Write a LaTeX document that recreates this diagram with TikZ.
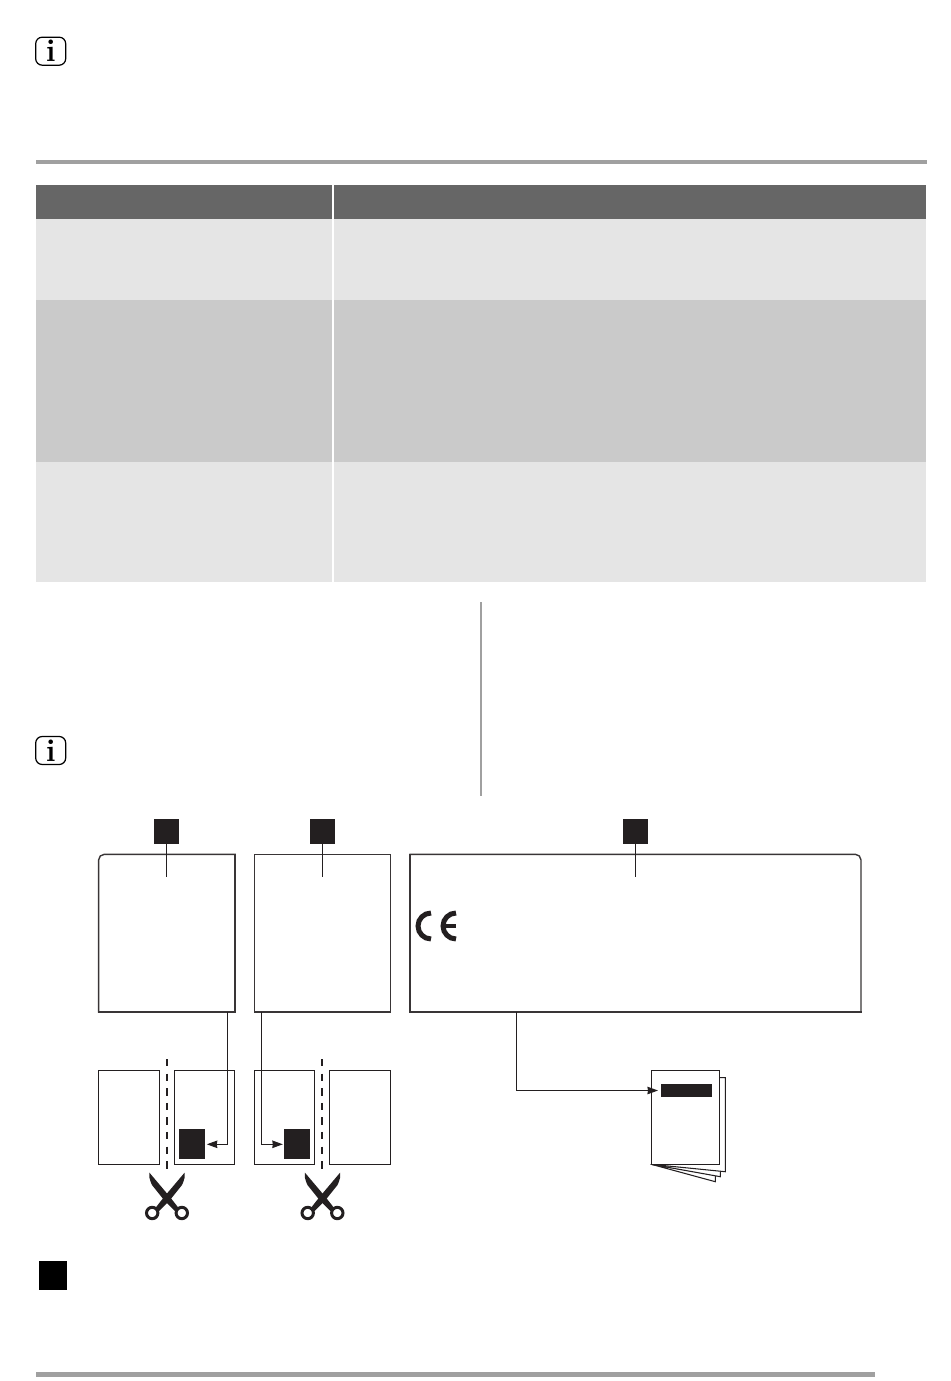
\documentclass[tikz,border=0pt]{standalone}
\usetikzlibrary{arrows.meta}
\definecolor{inkblack}{HTML}{231F20}
\definecolor{rulegray}{HTML}{A0A0A0}
\definecolor{headgray}{HTML}{666666}
\definecolor{lightrow}{HTML}{E5E5E5}
\definecolor{darkrow}{HTML}{CACACA}
\tikzset{
  cell/.style={inner sep=0,outer sep=0,anchor=north west},
  tag/.style={fill=inkblack,inner sep=0,outer sep=0,minimum size=0.5cm},
  infobox/.style={draw=black,line width=0.7pt,rounded corners=0.13cm,inner sep=0,minimum width=0.6cm,minimum height=0.56cm,font=\fontsize{18}{18}\selectfont\bfseries},
  plate/.style={inner sep=0,outer sep=0,minimum height=3.154cm},
  platebox/.style={draw=inkblack!90,line width=0.8pt,line cap=rect},
  piece/.style={draw=inkblack,line width=0.6pt,fill=white,inner sep=0,outer sep=0,minimum height=1.88cm},
  lead/.style={draw=inkblack,line width=0.6pt,>={Stealth[length=0.21cm,width=0.15cm,inset=0.3pt]}},
  cutline/.style={draw=inkblack,line width=1.1pt,dash pattern=on 0.148cm off 0.144cm},
  sheet/.style={draw=inkblack,line width=0.6pt,fill=white},
  blade/.pic={
    \fill[inkblack] (-17.7,-25.5) -- (-17.5,-20) .. controls (-16.8,-17) and (-16,-15) .. (-15,-13)
      -- (-3,2) -- (9,14) -- (12,10.5) -- (3,-1) -- cycle;
    \draw[inkblack,line width=0.06cm] (14.8,15) circle (0.114cm);
  },
  scissors/.pic={
    \pic {blade};
    \pic[xscale=-1] {blade};
  }
}
\begin{document}
\begin{tikzpicture}[x=0.02cm,y=-0.02cm]
  \useasboundingbox (0,0) rectangle (950,1381);
  % rules
  \fill[rulegray] (36,160) rectangle (927,164.5);
  \fill[rulegray] (36,1372) rectangle (875,1376.5);
  \draw[rulegray,line width=0.8pt] (481,602) -- (481,796);
  % table
  \node[cell,fill=headgray,minimum width=5.926cm,minimum height=0.68cm] (headA) at (36,185) {};
  \node[cell,fill=headgray,minimum width=11.834cm,minimum height=0.68cm] (headB) at (334.3,185) {};
  \node[cell,fill=lightrow,minimum width=5.926cm,minimum height=1.62cm] (rowAa) at (36,219) {};
  \node[cell,fill=lightrow,minimum width=11.834cm,minimum height=1.62cm] (rowAb) at (334.3,219) {};
  \node[cell,fill=darkrow,minimum width=5.926cm,minimum height=3.24cm] (rowBa) at (36,300) {};
  \node[cell,fill=darkrow,minimum width=11.834cm,minimum height=3.24cm] (rowBb) at (334.3,300) {};
  \node[cell,fill=lightrow,minimum width=5.926cm,minimum height=2.4cm] (rowCa) at (36,462) {};
  \node[cell,fill=lightrow,minimum width=11.834cm,minimum height=2.4cm] (rowCb) at (334.3,462) {};
  % info signs
  \node[infobox] (infoA) at (50.7,51.2) {i};
  \node[infobox] (infoB) at (50.7,750.5) {i};
  % labels and plates
  \node[tag] (tagA) at (166.8,831.5) {};
  \node[tag] (tagB) at (322.5,831.5) {};
  \node[tag] (tagC) at (635.3,831.5) {};
  \node[plate,minimum width=2.73cm] (plateA) at (166.9,933.2) {};
  \node[plate,minimum width=2.73cm] (plateB) at (322.5,933.2) {};
  \node[plate,minimum width=9.02cm] (plateC) at (635.5,933.2) {};
  \draw[platebox,rounded corners=0.11cm] (plateA.south west) -- (plateA.north west) -- (plateA.north east);
  \draw[platebox] (plateA.north east) -- (plateA.south east) -- (plateA.south west);
  \draw[platebox] (plateB.south west) rectangle (plateB.north east);
  \draw[platebox,rounded corners=0.11cm] (plateC.north west) -- (plateC.north east) -- (plateC.south east);
  \draw[platebox] (plateC.south east) -- (plateC.south west) -- (plateC.north west);
  \coordinate (tickA) at (166.8,877);
  \coordinate (tickB) at (322.5,877);
  \coordinate (tickC) at (635.3,877);
  \draw[lead] (tagA.south) -- (tickA);
  \draw[lead] (tagB.south) -- (tickB);
  \draw[lead] (tagC.south) -- (tickC);
  % CE mark
  \draw[inkblack,line width=0.1cm] (431,913) arc (90:270:0.26cm);
  \draw[inkblack,line width=0.1cm] (456,913) arc (90:270:0.26cm);
  \draw[inkblack,line width=0.07cm] (443,926) -- (456,926);
  % cut pieces
  \node[piece,minimum width=1.225cm] (pieceA) at (129,1117.3) {};
  \node[piece,minimum width=1.2cm] (pieceB) at (204.7,1117.3) {};
  \node[piece,minimum width=1.2cm] (pieceC) at (284.3,1117.3) {};
  \node[piece,minimum width=1.225cm] (pieceD) at (360,1117.3) {};
  \draw[cutline] (167,1059) -- (167,1170);
  \draw[cutline] (322,1059) -- (322,1170);
  \node[tag,minimum width=0.52cm,minimum height=0.6cm] (tagD) at (192.3,1144.3) {};
  \node[tag,minimum width=0.52cm,minimum height=0.6cm] (tagE) at (297.3,1144.3) {};
  \coordinate (legA) at (227.7,1012);
  \coordinate (legB) at (261.7,1012);
  \draw[lead,->,shorten >=0.03cm] (legA) |- (tagD.east);
  \draw[lead,->,shorten >=0.03cm] (legB) |- (tagE.west);
  \pic (cutA) at (167,1198) {scissors};
  \pic (cutB) at (322.5,1198) {scissors};
  % booklet
  \draw[sheet] (651.3,1164.3) -- (715.3,1181.7) -- (715.3,1175) -- cycle;
  \draw[sheet] (651.3,1164.3) -- (720.3,1176.7) -- (720.3,1170) -- cycle;
  \draw[sheet] (651.3,1164.3) -- (725.3,1171.7) -- (725.3,1077.7) -- (715,1077.7) -- cycle;
  \node[cell,draw=inkblack,line width=0.6pt,fill=white,minimum width=1.36cm,minimum height=1.88cm] (booklet) at (651.3,1070.3) {};
  \node[tag,minimum width=1.014cm,minimum height=0.272cm] (barC) at (686.3,1090.5) {};
  \coordinate (legC) at (516.3,1012);
  \draw[lead,->,shorten >=0.06cm] (legC) |- (barC.west);
  % note square
  \node[cell,fill=black,minimum width=0.56cm,minimum height=0.58cm] (noteTag) at (39,1261) {};
\end{tikzpicture}
\end{document}
